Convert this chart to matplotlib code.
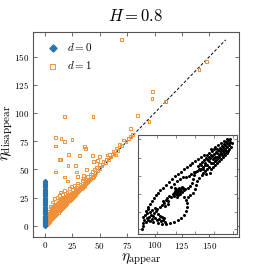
import matplotlib
matplotlib.use("Agg")
import matplotlib.pyplot as plt

plt.rcParams['font.family'] = ['cmr10', 'DejaVu Serif']
plt.rcParams['mathtext.fontset'] = 'cm'
plt.rcParams['axes.formatter.use_mathtext'] = True

title = r"$H = 0.8$"
xlabel = r"$\eta_{\rm appear}$"
ylabel = r"$\eta_{\rm disappear}$"
legend_labels = [r"$d = 0$", r"$d = 1$"]
main_ticks = [0, 25, 50, 75, 100, 125, 150]

# d = 0 : all at eta_appear = 0
d0_y = [0, 0.5, 1, 1.5, 2, 2.5, 3, 3.5, 4, 4.5, 5, 5.5, 6, 6.5, 7, 7.5, 8, 9, 10, 11, 12, 13,
        14, 15, 16, 17, 18, 19, 20, 21, 22, 23, 24, 25, 26, 27, 28, 29, 30, 31, 32, 33, 34,
        35, 36, 37, 38, 39, 40]
d0_x = [0.0] * len(d0_y)

# d = 1
d1_pts = [
    # dense wedge near the diagonal
    (1,1),(1,2),(1,3),(2,2),(2,3),(2,4),(2,5),(3,3),(3,4),(3,5),(3,6),(3,8),(4,4),(4,5),(4,6),(4,7),
    (4,9),(4,11),(5,5),(5,6),(5,7),(5,8),(5,10),(5,12),(6,6),(6,7),(6,8),(6,9),(6,11),(6,13),(6,15),
    (7,7),(7,8),(7,9),(7,10),(7,12),(7,14),(7,16),(8,8),(8,9),(8,10),(8,11),(8,13),(8,15),(8,17),
    (9,9),(9,10),(9,11),(9,12),(9,14),(9,16),(9,18),(10,10),(10,11),(10,12),(10,13),(10,15),(10,17),
    (10,19),(11,11),(11,12),(11,13),(11,14),(11,16),(11,18),(11,20),(12,12),(12,13),(12,14),(12,15),
    (12,17),(12,19),(12,21),(13,13),(13,14),(13,15),(13,16),(13,18),(13,20),(13,22),(14,14),(14,15),
    (14,16),(14,17),(14,19),(14,21),(14,23),(15,15),(15,16),(15,17),(15,18),(15,20),(15,22),(15,24),
    (16,16),(16,17),(16,18),(16,19),(16,21),(16,23),(16,25),(17,17),(17,18),(17,19),(17,20),(17,22),
    (17,24),(18,18),(18,19),(18,20),(18,21),(18,23),(18,25),(19,19),(19,20),(19,21),(19,22),(19,24),
    (19,26),(20,20),(20,21),(20,22),(20,23),(20,25),(20,27),(21,21),(21,22),(21,23),(21,24),(21,26),
    (22,22),(22,23),(22,24),(22,25),(22,27),(23,23),(23,24),(23,25),(23,26),(23,28),(24,24),(24,25),
    (24,26),(24,27),(24,29),(25,25),(25,26),(25,27),(25,28),(26,26),(26,27),(26,28),(26,29),(27,27),
    (27,28),(27,29),(27,30),(28,28),(28,29),(28,30),(28,31),(29,29),(29,30),(29,31),(30,30),(30,31),
    (30,32),(31,31),(31,32),(31,33),(32,32),(32,33),(32,34),(33,33),(33,34),(33,35),(34,34),(34,35),
    (35,35),(35,36),(36,36),(36,37),(37,37),(37,38),(38,38),(38,39),(39,39),(40,40),(40,41),(41,41),
    (42,42),(43,43),(44,44),(45,45),(46,47),(48,49),(50,51),(52,53),(55,56),(58,59),(60,61),(63,64),
    (66,67),(70,71),(74,75),(78,79),(80,81),
    # sparser points above the wedge
    (3,13),(5,17),(7,21),(9,24),(11,25),(13,27),(14,30),(16,28),(18,31),(20,30),(22,33),(24,35),
    (25,32),(27,36),(29,34),(30,38),(32,37),(34,40),(35,42),(37,41),(39,44),(41,46),(43,48),
    (45,50),(47,52),(50,54),(53,57),(56,59),(59,63),(62,66),(65,69),(68,72),(72,76),
    # scattered outliers
    (69.5,165.5),(147.3,146),(140.6,138.8),(97.9,119.2),(97.6,112.6),(109.8,110.3),(84.4,98.1),
    (94.9,92.5),(17.7,97),(43.9,97.2),(78.4,86.3),(9.8,78.3),(14.5,77.4),(18,75),(24.7,76.5),
    (9.4,70.8),(36.3,70),(14,58.7),(31.7,62.5),(21,53.6),(27.7,53.6),(43.3,62),(47.6,58),(50,61.7),
    (9.8,47.7),(18,43.2),(28.7,47.7),(20.4,39.7),(34.8,44.8),(21.3,63.4),(13.1,59),(56.5,62.8),
    (64,62.8),(76.2,77.7),(44.2,57),(38.2,50),(29.6,44),(36.6,68.7),
]
d1_x = [p[0] for p in d1_pts]
d1_y = [p[1] for p in d1_pts]

diag_x = [0, 165]
diag_y = [0, 165]

# inset trajectory (arbitrary units)
inset_pts = [
    (4,5),(5,8),(5,11),(6,14),(5,17),(7,19),(9,21),(8,23),(10,25),
    (8,12),(10,14),(12,13),(14,15),(11,17),(13,19),(15,18),(17,16),(19,14),(21,15),(23,13),(25,14),
    (27,12),(16,21),(18,23),(20,20),(22,18),(14,24),(17,26),(19,25),(12,22),(24,17),(26,16),(9,16),(15,12),
    (20,11),(24,10),(28,10),(32,11),(36,12),(40,14),(43,16),(46,19),(48,23),(49,27),(49,31),(48,34),(46,37),
    (22,27),(24,29),(26,31),(25,33),(28,34),(30,33),(29,36),(31,38),(33,37),(27,28),(30,30),
    (35,40),(36,42),(37,44),(38,41),(39,43),(40,45),(41,42),(42,44),(43,46),(44,43),(38,46),(40,39),
    (42,40),(45,47),(36,38),(39,37),(44,48),(41,47),(37,47),(46,45),
    (47,46),(50,47),(53,49),(55,52),(56,56),(57,60),(58,63),(60,64),(63,65),(66,66),
    (10,27),(12,30),(14,33),(16,36),(18,39),(20,42),(22,45),(25,47),(28,50),(31,53),(34,56),(37,59),
    (40,61),(43,63),(46,66),(49,68),(52,70),(55,72),(58,74),(61,76),(64,78),(67,80),
    (33,48),(36,51),(39,54),(42,56),(45,58),(48,58),(51,59),(54,61),(57,63),
    (50,37),(53,39),(56,42),(58,46),(59,50),(60,54),(62,57),(65,60),(69,61),(73,62),
    (62,66),(64,70),(66,68),(68,72),(70,70),(72,74),(74,72),(76,76),(78,74),(80,78),(82,80),(84,82),
    (86,84),(88,86),(90,88),(92,90),(93,93),(91,95),(89,93),(87,91),(85,89),(83,87),(81,85),(79,83),
    (77,81),(75,79),(73,77),(71,75),(69,77),(67,75),(65,73),(63,71),(61,69),(66,62),(68,64),(70,66),
    (72,68),(74,66),(76,68),(78,70),(80,72),(82,74),(84,76),(86,78),(88,80),(90,82),(92,86),(94,88),
    (95,92),(93,96),(90,96),(87,94),(84,92),(81,90),(78,88),(75,84),(72,82),(70,80),(74,86),(77,86),
    (80,86),(83,84),(85,80),(87,82),(89,84),(91,84),(76,72),(78,78),(82,78),(84,86),(86,88),(88,90),
    (90,92),(80,82),(72,78),(68,70),(64,66),(70,76),(74,80),(77,77),(83,81),(86,86),(89,89),(92,92),
    (79,75),(81,77),
]
inset_x = [p[0] for p in inset_pts]
inset_y = [p[1] for p in inset_pts]
inset_xticks = [19, 38.5, 58, 77, 96]
inset_yticks = [5, 22, 40, 59, 77, 96]

fig = plt.figure(figsize=(2.66, 2.66), dpi=100)
ax = fig.add_axes([0.124, 0.109, 0.774, 0.771])

ax.plot(diag_x, diag_y, color='black', ls='--', lw=0.7, zorder=1, dashes=(3, 2))
ax.scatter(d1_x, d1_y, marker='s', s=4, facecolors='none', edgecolors='#f0913a',
           linewidths=0.7, label=legend_labels[1], zorder=2)
ax.scatter(d0_x, d0_y, marker='D', s=4, color='#2a74ad', label=legend_labels[0], zorder=3)

ax.set_xlim(-11, 177)
ax.set_ylim(-10, 172)
ax.set_xticks(main_ticks)
ax.set_yticks(main_ticks)
ax.tick_params(direction='in', top=True, right=True, labelsize=6.5, length=3, width=0.6,
               color='#555555', pad=2.5)
for s in ax.spines.values():
    s.set_color('#555555')
    s.set_linewidth(0.8)
ax.set_title(title, fontsize=12, pad=8)
ax.set_xlabel(xlabel, fontsize=11, va='top')
ax.xaxis.set_label_coords(0.527, -0.07)
ax.set_ylabel(ylabel, fontsize=11.5)
ax.yaxis.set_label_coords(-0.088, 0.51)

h, l = ax.get_legend_handles_labels()
ax.legend(h[::-1], l[::-1], loc='upper left', frameon=False, fontsize=8, handletextpad=0.3,
          borderaxespad=0.4, labelspacing=0.6, markerscale=1.8)

ins = fig.add_axes([0.519, 0.120, 0.372, 0.372])
ins.plot(inset_x, inset_y, ls='none', marker='o', ms=1.2, color='black')
ins.set_xlim(0, 100)
ins.set_ylim(0, 100)
ins.set_xticks(inset_xticks)
ins.set_yticks(inset_yticks)
ins.tick_params(direction='in', top=True, right=True, labelbottom=False, labelleft=False,
                length=2, width=0.5, color='#555555')
for s in ins.spines.values():
    s.set_color('#555555')
    s.set_linewidth(0.8)

fig.savefig('out.png', dpi=100)
